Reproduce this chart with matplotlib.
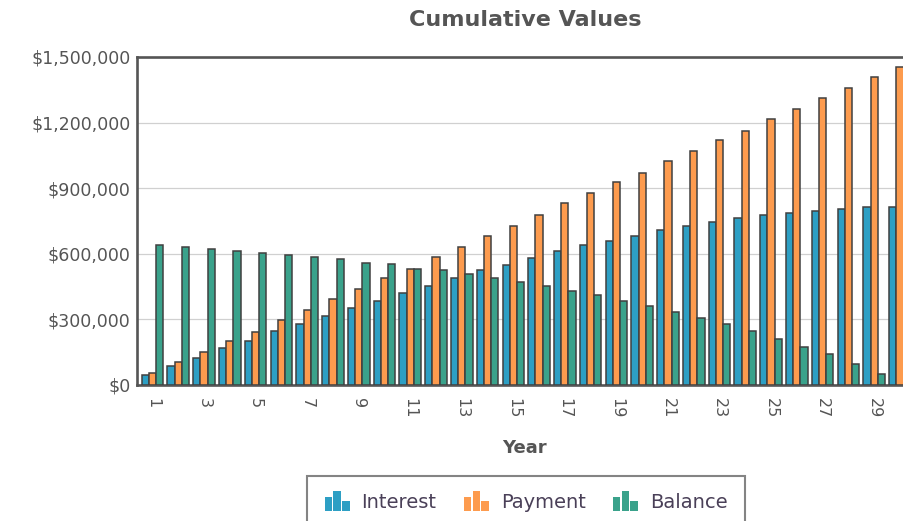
import numpy as np
import matplotlib
matplotlib.use("Agg")
import matplotlib.pyplot as plt
from matplotlib.patches import Rectangle
from matplotlib.legend_handler import HandlerBase
from matplotlib.ticker import FuncFormatter

# values (cumulative, dollars)
years = list(range(1, 31))
interest = [45000, 88000, 124000, 167000, 201000, 245000, 280000, 315000, 350000, 386000,
            420000, 455000, 490000, 526000, 550000, 579000, 614000, 640000, 658000, 682000,
            708000, 727000, 744000, 762000, 779000, 788000, 797000, 805000, 814000, 815000]
payment = [53000, 103000, 149000, 199000, 244000, 299000, 342000, 394000, 438000, 490000,
           532000, 586000, 629000, 682000, 726000, 777000, 832000, 876000, 927000, 971000,
           1024000, 1068000, 1120000, 1162000, 1215000, 1261000, 1312000, 1356000, 1408000, 1452000]
balance = [640000, 632000, 621000, 612000, 603000, 595000, 586000, 577000, 560000, 553000,
           532000, 526000, 508000, 490000, 473000, 455000, 429000, 412000, 385000, 359000,
           333000, 306000, 280000, 245000, 212000, 174000, 140000, 95000, 51000, 0]
series_names = ["Interest", "Payment", "Balance"]
colors = ["#2d9fc4", "#fd9b4e", "#3aa28b"]

TXT = "#555555"
EDGE = "#404040"


class BarIcon(HandlerBase):
    # little three-bar glyph like the original legend
    def create_artists(self, legend, orig_handle, xdescent, ydescent,
                       width, height, fontsize, trans):
        c = orig_handle.get_facecolor()
        bw = width / 3.3
        arts = []
        for i, h in enumerate([0.75, 1.05, 0.5]):
            r = Rectangle((-xdescent + i * bw * 1.15, -ydescent - 1), bw, height * h * 1.25,
                          facecolor=c, edgecolor="none", transform=trans)
            arts.append(r)
        return arts


fig = plt.figure(figsize=(9.04, 5.21), dpi=100)
W, H = 904.0, 521.0
ax = fig.add_axes([137.3 / W, 1 - 385 / H, (911 - 137.3) / W, 328 / H])

x = np.array(years)
bw = 0.28
handles = []
for k, vals in enumerate([interest, payment, balance]):
    b = ax.bar(x + (k - 1) * bw, vals, width=bw, color=colors[k], edgecolor=EDGE,
               linewidth=1.1, zorder=3, label=series_names[k])
    handles.append(b.patches[0])

ax.set_xlim(0.41, 30.43)
ax.set_ylim(0, 1500000)
ax.set_yticks(np.arange(0, 1500001, 300000))
ax.yaxis.set_major_formatter(FuncFormatter(lambda v, p: "${:,.0f}".format(v)))
ax.set_xticks(years[::2])
ax.set_xticklabels([str(y) for y in years[::2]], rotation=270)
ax.grid(axis="y", color="#d0d0d0", linewidth=0.9, zorder=0)
ax.set_axisbelow(True)

ax.tick_params(axis="y", length=0, pad=5, labelsize=12.5, labelcolor=TXT)
ax.tick_params(axis="x", length=0, pad=9, labelsize=11.5, labelcolor=TXT)

for s in ["left", "top", "bottom"]:
    ax.spines[s].set_color(TXT)
    ax.spines[s].set_linewidth(1.9)
ax.spines["right"].set_visible(False)

ax.set_xlabel("Year", fontsize=13, fontweight="bold", color=TXT, labelpad=15)
fig.text(525 / W, 1 - 20 / H, "Cumulative Values", ha="center", va="center",
         fontsize=16, fontweight="bold", color=TXT)

leg = fig.legend(handles, series_names, loc="upper center", ncol=3,
                 bbox_to_anchor=(526 / W, 1 - 476 / H), fontsize=14, borderaxespad=0,
                 handler_map={Rectangle: BarIcon()}, handlelength=1.3, handleheight=0.8,
                 handletextpad=0.6, columnspacing=1.4, fancybox=False, borderpad=0.9,
                 frameon=True)
leg.get_frame().set_edgecolor("#666666")
leg.get_frame().set_linewidth(1.5)
for t in leg.get_texts():
    t.set_color("#4a4058")

fig.savefig("out.png", dpi=100)
